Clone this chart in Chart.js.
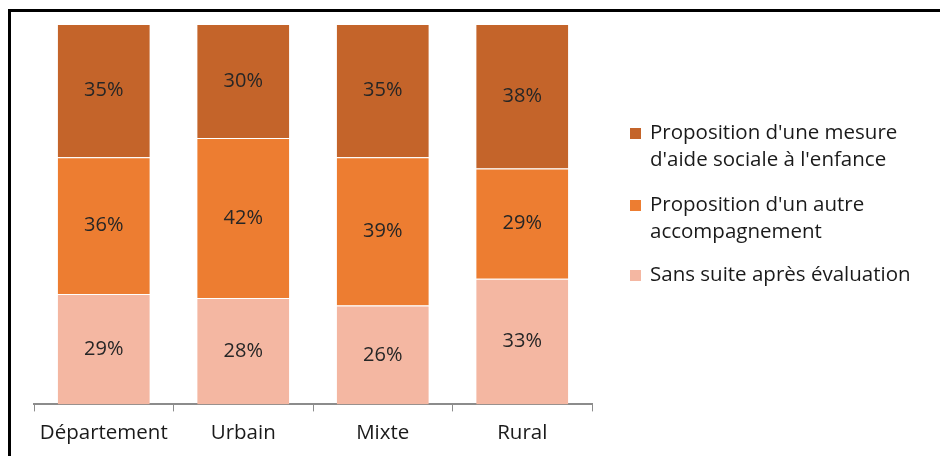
<!DOCTYPE html>
<html><head><meta charset="utf-8">
<script src="https://cdn.jsdelivr.net/npm/chart.js@4.4.1/dist/chart.umd.min.js"></script>
<style>html,body{margin:0;padding:0;background:#fff;}#wrap{width:940px;height:456px;position:relative;}</style>
</head><body><div id="wrap"><canvas id="c" width="940" height="456"></canvas></div>
<script>
const categories = ["Département", "Urbain", "Mixte", "Rural"];
const sansSuite = [29, 28, 26, 33];
const autreAccomp = [36, 42, 39, 29];
const aideSociale = [35, 30, 35, 38];
const seriesNames = [
  "Sans suite après évaluation",
  "Proposition d'un autre accompagnement",
  "Proposition d'une mesure d'aide sociale à l'enfance"
];
const legendLines = [
  ["Proposition d'une mesure", "d'aide sociale à l'enfance"],
  ["Proposition d'un autre", "accompagnement"],
  ["Sans suite après évaluation"]
];
const colors = ["#F4B7A2", "#ED7D31", "#C4642A"];
const FONT = "'Open Sans', 'Liberation Sans', sans-serif";

const frame = {
  id: 'frame',
  beforeDraw(chart) {
    const ctx = chart.ctx;
    ctx.save();
    ctx.fillStyle = '#000';
    ctx.fillRect(8, 9, 940 - 8, 3);
    ctx.fillRect(8, 9, 3, 456 - 9);
    ctx.restore();
  }
};
const labels = {
  id: 'labels',
  afterDatasetsDraw(chart) {
    const ctx = chart.ctx;
    ctx.save();
    ctx.font = "20px " + FONT;
    ctx.fillStyle = '#262626';
    ctx.textAlign = 'center';
    ctx.textBaseline = 'middle';
    chart.data.datasets.forEach((ds, i) => {
      chart.getDatasetMeta(i).data.forEach((bar, j) => {
        const y = (bar.y + bar.base) / 2;
        ctx.fillText(ds.data[j] + '%', bar.x, y);
      });
    });
    ctx.restore();
  }
};
const legend = {
  id: 'customLegend',
  afterDraw(chart) {
    const ctx = chart.ctx;
    ctx.save();
    ctx.font = "20.5px " + FONT;
    ctx.textBaseline = 'middle';
    const ys = [133, 205, 275];
    const order = [2, 1, 0];
    order.forEach((dsIdx, k) => {
      const y0 = ys[k];
      ctx.fillStyle = colors[dsIdx];
      ctx.fillRect(630, y0 - 5, 11, 11);
      ctx.fillStyle = '#1a1a1a';
      legendLines[k].forEach((line, li) => {
        ctx.fillText(line, 650, y0 + li * 27);
      });
    });
    ctx.restore();
  }
};

const datasets = [sansSuite, autreAccomp, aideSociale].map((d, i) => ({
  label: seriesNames[i],
  data: d,
  backgroundColor: colors[i],
  borderColor: '#ffffff',
  borderWidth: {top: 1, bottom: 0, left: 0, right: 0},
  borderSkipped: false,
  categoryPercentage: 1,
  barPercentage: 0.66
}));

new Chart(document.getElementById('c'), {
  type: 'bar',
  data: { labels: categories, datasets },
  options: {
    responsive: false,
    animation: false,
    layout: { padding: { left: 34, right: 348, top: 24, bottom: 2 } },
    plugins: { legend: { display: false }, tooltip: { enabled: false } },
    scales: {
      x: {
        stacked: true,
        offset: true,
        grid: { display: true, drawOnChartArea: false, drawTicks: true, tickLength: 7, color: '#8c8c8c', offset: true },
        border: { display: true, color: '#8c8c8c', width: 2 },
        ticks: { color: '#1a1a1a', font: { size: 20.5, family: FONT }, padding: 9 }
      },
      y: {
        stacked: true, min: 0, max: 100, display: false
      }
    }
  },
  plugins: [frame, labels, legend]
});
</script>
</body></html>
